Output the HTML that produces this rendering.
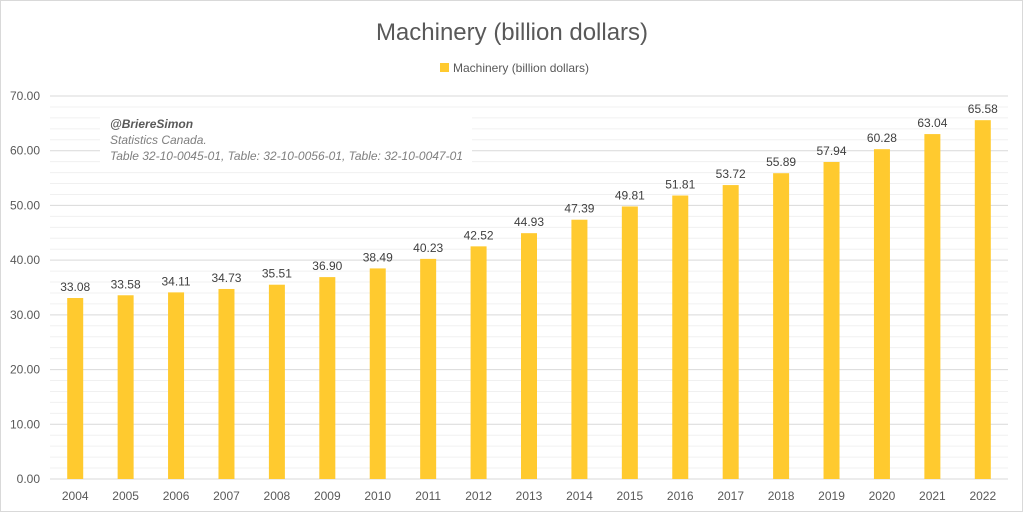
<!DOCTYPE html>
<html><head><meta charset="utf-8"><style>
body{margin:0;background:#fff;}
svg text{font-family:"Liberation Sans",sans-serif;}
</style></head><body>
<svg id="chart" width="1024" height="513" xmlns="http://www.w3.org/2000/svg">
<rect x="0.5" y="0.5" width="1022" height="511" fill="#fff" stroke="#d9d9d9"/>
<text x="512" y="40" text-anchor="middle" font-size="24" fill="#595959">Machinery (billion dollars)</text>
<rect x="440" y="63" width="9" height="9" fill="#FFCA2F"/>
<text x="453" y="72" font-size="12" fill="#595959">Machinery (billion dollars)</text>
<g id="grid"></g><g id="bars"></g><g id="labels"></g>
<rect x="100" y="108" width="372" height="58" fill="#fff"/>
<text x="110" y="128" font-size="12" font-style="italic" font-weight="bold" fill="#595959">@BriereSimon</text>
<text x="110" y="144" font-size="12" font-style="italic" fill="#7f7f7f">Statistics Canada.</text>
<text x="110" y="160" font-size="12" font-style="italic" fill="#7f7f7f">Table 32-10-0045-01, Table: 32-10-0056-01, Table: 32-10-0047-01</text>
</svg>
<script>
const years=["2004","2005","2006","2007","2008","2009","2010","2011","2012","2013","2014","2015","2016","2017","2018","2019","2020","2021","2022"];
const values=[33.08,33.58,34.11,34.73,35.51,36.90,38.49,40.23,42.52,44.93,47.39,49.81,51.81,53.72,55.89,57.94,60.28,63.04,65.58];
const yTicks=[0,10,20,30,40,50,60,70];
const NS="http://www.w3.org/2000/svg";
const x0=50,x1=1008,yTop=96,yBot=479,yMax=70;
const y=v=>yBot-(v/yMax)*(yBot-yTop);
const step=(x1-x0)/years.length;
const xc=i=>x0+step*(i+0.5);
function mk(t,a,p){const e=document.createElementNS(NS,t);for(const k in a)e.setAttribute(k,a[k]);p.appendChild(e);return e;}
const g=document.getElementById('grid'),b=document.getElementById('bars'),l=document.getElementById('labels');
for(let v=0;v<=yMax;v+=2){
 const major=v%10===0;
 const ln=mk('line',{x1:x0,x2:x1,y1:y(v),y2:y(v),stroke:major?'#d9d9d9':'#f0f0f0','stroke-width':1},g);
 
 
}
yTicks.forEach(v=>{
 const t=mk('text',{x:40,y:y(v)+4,'text-anchor':'end','font-size':12,fill:'#595959'},g);
 t.textContent=v.toFixed(2);
 
 
});
years.forEach((yr,i)=>{
 const r=mk('rect',{x:xc(i)-8,y:y(values[i]),width:16,height:yBot-y(values[i]),fill:'#FFCA2F'},b);
 
 
 const t=mk('text',{x:xc(i),y:y(values[i])-7,'text-anchor':'middle','font-size':12,fill:'#404040'},l);
 t.textContent=values[i].toFixed(2);
 
 
 const xt=mk('text',{x:xc(i),y:500,'text-anchor':'middle','font-size':12,fill:'#595959'},l);
 xt.textContent=yr;
 
 
});
</script>
</body></html>
